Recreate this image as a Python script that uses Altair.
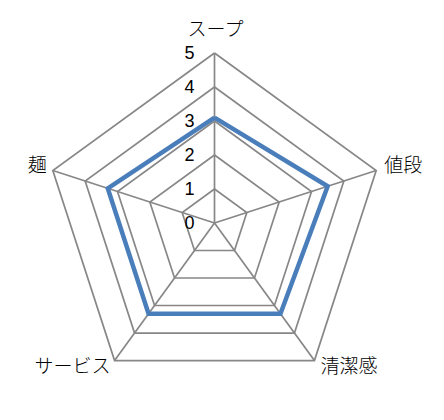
import altair as alt
import pandas as pd

categories = ["スープ", "値段", "清潔感", "サービス", "麺"]
values = [3.1, 3.5, 3.3, 3.3, 3.3]
levels = [1, 2, 3, 4, 5]
tick_values = [0, 1, 2, 3, 4, 5]
tick_labels = ["0", "1", "2", "3", "4", "5"]
max_level = 5

n = len(categories)

grid_df = pd.DataFrame(
    [{"r": lv, "i": i} for lv in levels for i in range(n + 1)]
)
spoke_df = pd.DataFrame([{"i": i, "r": max_level} for i in range(n)])
series_df = pd.DataFrame(
    [{"i": i, "r": values[i % n], "cat": categories[i % n]} for i in range(n + 1)]
)
tick_df = pd.DataFrame({"r": tick_values, "label": tick_labels})

ANG = "PI/2 - 2*PI*datum.i/5"
xcalc = f"datum.r*cos({ANG})"
ycalc = f"datum.r*sin({ANG})"

unit = 34.0
W, H = 428, 404
cx, cy = 206.5, 215.0
xs = alt.Scale(domain=[-cx / unit, (W - cx) / unit], nice=False, zero=False)
ys = alt.Scale(domain=[(cy - H) / unit, cy / unit], nice=False, zero=False)

GRAY = "#878787"
BLUE = "#4a7ebb"

grid = alt.Chart(grid_df).transform_calculate(x=xcalc, y=ycalc).mark_line(
    color=GRAY, strokeWidth=1.7, strokeJoin="miter"
).encode(
    x=alt.X("x:Q", scale=xs, axis=None),
    y=alt.Y("y:Q", scale=ys, axis=None),
    detail="r:N",
    order="i:Q",
)

spokes = alt.Chart(spoke_df).transform_calculate(
    x=xcalc, y=ycalc, x0="0", y0="0"
).mark_rule(color=GRAY, strokeWidth=1.7).encode(
    x=alt.X("x0:Q", scale=xs, axis=None),
    y=alt.Y("y0:Q", scale=ys, axis=None),
    x2="x:Q",
    y2="y:Q",
)

series = alt.Chart(series_df).transform_calculate(x=xcalc, y=ycalc).mark_line(
    color=BLUE, strokeWidth=4.5, strokeJoin="miter"
).encode(
    x=alt.X("x:Q", scale=xs, axis=None),
    y=alt.Y("y:Q", scale=ys, axis=None),
    order="i:Q",
)

ticks = alt.Chart(tick_df).transform_calculate(x="0", y="datum.r").mark_text(
    align="right", baseline="middle", dx=-20, dy=1, fontSize=18,
    font="Liberation Sans", color="#000000"
).encode(
    x=alt.X("x:Q", scale=xs, axis=None),
    y=alt.Y("y:Q", scale=ys, axis=None),
    text="label:N",
)

label_styles = [
    dict(align="center", dx=1, dy=-23),
    dict(align="left", dx=8, dy=-4),
    dict(align="left", dx=6, dy=6),
    dict(align="right", dx=-4, dy=6),
    dict(align="right", dx=-6, dy=-4),
]
label_layers = []
for i, cat in enumerate(categories):
    df = pd.DataFrame({"i": [i], "r": [max_level], "cat": [cat]})
    st = label_styles[i]
    label_layers.append(
        alt.Chart(df).transform_calculate(x=xcalc, y=ycalc).mark_text(
            baseline="middle", fontSize=19, font="Noto Sans CJK JP",
            fontWeight=300, color="#000000", **st
        ).encode(
            x=alt.X("x:Q", scale=xs, axis=None),
            y=alt.Y("y:Q", scale=ys, axis=None),
            text="cat:N",
        )
    )

chart = alt.layer(grid, spokes, series, ticks, *label_layers).properties(
    width=W, height=H, padding=0, autosize=alt.AutoSizeParams(type="none")
).configure_view(stroke=None)

chart.save("out.html", embed_options={"renderer": "svg", "actions": False})
